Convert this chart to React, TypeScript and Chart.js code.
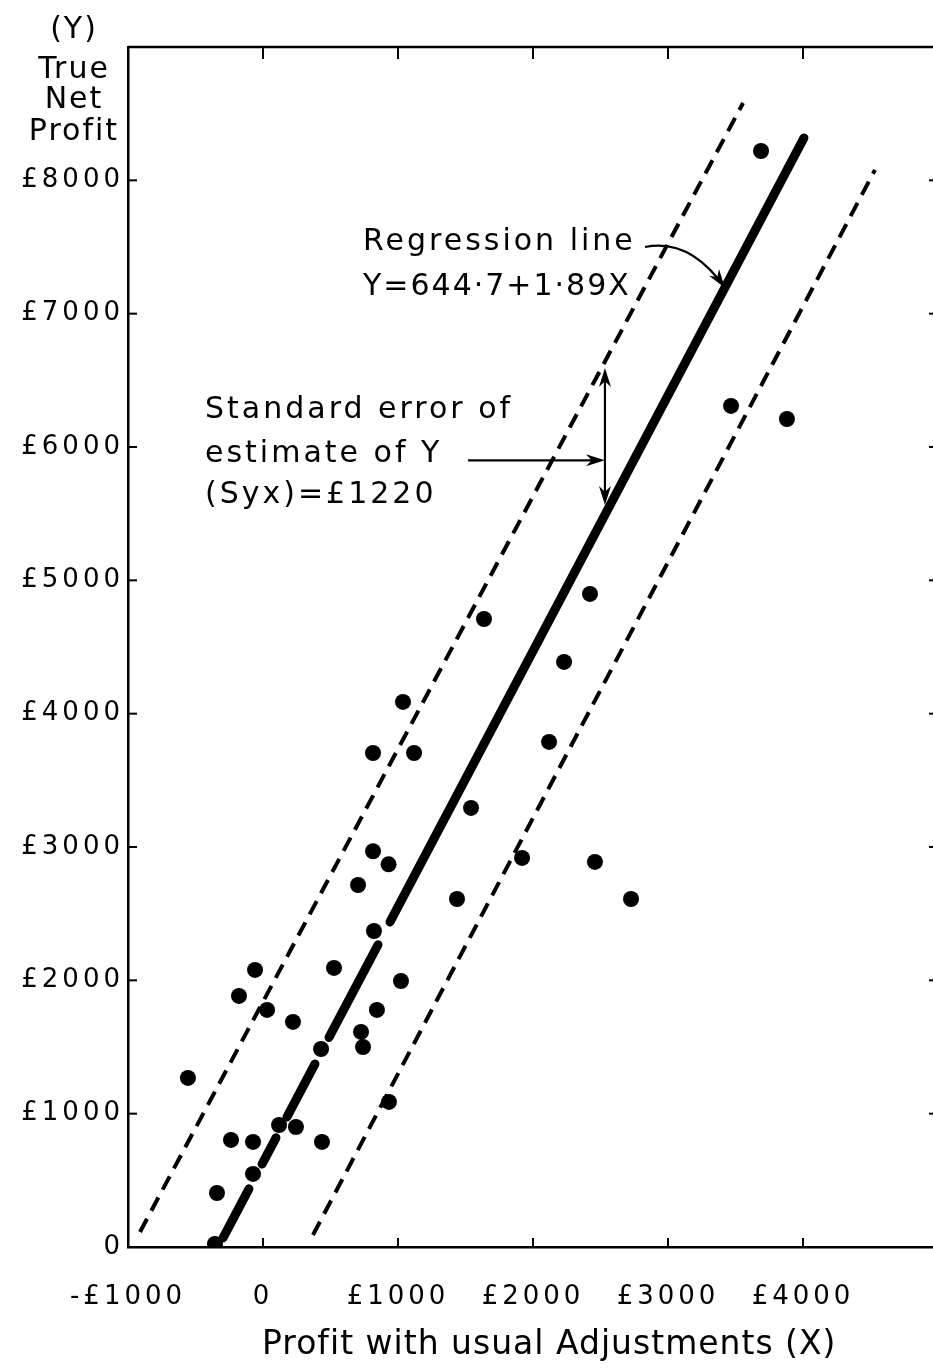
import React, { useEffect, useRef } from "react";
import { Chart, registerables } from "chart.js";

Chart.register(...registerables);

const FONT_FAMILY = '"DejaVu Sans", sans-serif';

// Scatter points: Profit with usual Adjustments (X), True Net Profit (Y), in £
const profitX = [
  -556, -356, -341, -237, -178, -74, -74, -59, 30, 119,
  222, 244, 430, 437, 526, 704, 726, 741, 815, 815,
  822, 844, 930, 933, 1022, 1037, 1119, 1437, 1541, 1637,
  1919, 2119, 2230, 2422, 2459, 2726, 3467, 3689, 3881,
];
const trueNetProfitY = [
  1268, 23, 405, 803, 1883, 788, 548, 2078, 1778, 915,
  1688, 900, 1485, 788, 2093, 2715, 1613, 1500, 3705, 2968,
  2370, 1778, 2870, 1088, 1995, 4088, 3705, 2610, 3293, 4710,
  2918, 3788, 4388, 4898, 2888, 2610, 6308, 8220, 6210,
];

// Regression line Y = 644.7 + 1.89X (drawn broken where it passes the dots)
const regressionX = [-296, -104, null, -7, 96, null, 178, 385, null, 489, 852, null, 941, 4007];
const regressionY = [68, 436, null, 622, 819, null, 976, 1373, null, 1572, 2267, null, 2438, 8318];

// Standard error band (± £1220)
const upperBandX = [-911, 3556];
const upperBandY = [113, 8580];
const lowerBandX = [370, 4533];
const lowerBandY = [90, 8078];

// Axis ticks
const xTickValues = [-1000, 0, 1000, 2000, 3000, 4000];
const xTickLabels = ["-£1000", "0", "£1000", "£2000", "£3000", "£4000"];
const yTickValues = [0, 1000, 2000, 3000, 4000, 5000, 6000, 7000, 8000];
const yTickLabels = ["0", "£1000", "£2000", "£3000", "£4000", "£5000", "£6000", "£7000", "£8000"];

// Texts
const yTitleLines = ["(Y)", "True", "Net", "Profit"];
const xTitle = "Profit with usual Adjustments (X)";
const regressionLabel = ["Regression line", "Y=644·7+1·89X"];
const stdErrorLabel = ["Standard error of", "estimate of Y", "(Syx)=£1220"];

// Annotation anchors (data units)
const sePointerFrom = { x: 1519, y: 5900 };
const sePointerTo = { x: 2533, y: 5900 };
const seSpanTop = { x: 2533, y: 6593 };
const seSpanBottom = { x: 2533, y: 5565 };
const regPointerFrom = { x: 2830, y: 7500 };
const regPointerCtrl = { x: 3163, y: 7568 };
const regPointerTo = { x: 3422, y: 7193 };

const toPoints = (xs: (number | null)[], ys: (number | null)[]) =>
  xs.map((x, i) => ({ x, y: ys[i] }));

function arrowHead(ctx: CanvasRenderingContext2D, fx: number, fy: number, tx: number, ty: number, len = 19, half = 6) {
  const ang = Math.atan2(ty - fy, tx - fx);
  const bx = tx - len * Math.cos(ang);
  const by = ty - len * Math.sin(ang);
  const nx = -Math.sin(ang) * half;
  const ny = Math.cos(ang) * half;
  ctx.beginPath();
  ctx.moveTo(tx, ty);
  ctx.lineTo(bx + nx, by + ny);
  ctx.lineTo(bx + (tx - bx) * 0.3, by + (ty - by) * 0.3);
  ctx.lineTo(bx - nx, by - ny);
  ctx.closePath();
  ctx.fill();
}

const decorPlugin = {
  id: "decor",
  beforeDraw(chart: any) {
    chart.ctx.letterSpacing = "4px";
  },
  afterDraw(chart: any) {
    const ctx: CanvasRenderingContext2D = chart.ctx;
    const a = chart.chartArea;
    const xs = chart.scales.x;
    const ys = chart.scales.y;
    const P = (p: { x: number; y: number }) => [xs.getPixelForValue(p.x), ys.getPixelForValue(p.y)];
    ctx.save();
    ctx.strokeStyle = "#000";
    ctx.fillStyle = "#000";
    const line = (x1: number, y1: number, x2: number, y2: number) => {
      ctx.beginPath();
      ctx.moveTo(x1, y1);
      ctx.lineTo(x2, y2);
      ctx.stroke();
    };
    // top frame line
    ctx.lineWidth = 2.5;
    line(a.left, a.top, a.right, a.top);
    // inward tick marks
    ctx.lineWidth = 2;
    xs.ticks.forEach((t: any) => {
      const px = xs.getPixelForValue(t.value);
      if (px <= a.left + 2 || px >= a.right - 2) return;
      line(px, a.bottom, px, a.bottom - 9);
      line(px, a.top, px, a.top + 12);
    });
    ys.ticks.forEach((t: any) => {
      const py = ys.getPixelForValue(t.value);
      if (py >= a.bottom - 2 || py <= a.top + 2) return;
      line(a.left, py, a.left + 9, py);
      line(a.right, py, a.right - 9, py);
    });

    // arrows
    ctx.lineWidth = 2.2;
    const [hx1, hy1] = P(sePointerFrom);
    const [hx2, hy2] = P(sePointerTo);
    line(hx1, hy1, hx2 - 6, hy2);
    arrowHead(ctx, hx1, hy1, hx2, hy2);
    const [vx1, vy1] = P(seSpanTop);
    const [vx2, vy2] = P(seSpanBottom);
    line(vx1, vy1 + 8, vx2, vy2 - 8);
    arrowHead(ctx, vx2, vy2, vx1, vy1);
    arrowHead(ctx, vx1, vy1, vx2, vy2);
    const [cx1, cy1] = P(regPointerFrom);
    const [ccx, ccy] = P(regPointerCtrl);
    const [cx2, cy2] = P(regPointerTo);
    ctx.beginPath();
    ctx.moveTo(cx1, cy1);
    ctx.quadraticCurveTo(ccx, ccy, cx2, cy2);
    ctx.stroke();
    arrowHead(ctx, ccx, ccy, cx2, cy2);

    // texts
    ctx.textBaseline = "alphabetic";
    ctx.textAlign = "left";
    ctx.font = `30px ${FONT_FAMILY}`;
    ctx.letterSpacing = "3px";
    ctx.fillText(regressionLabel[0], 363, 250);
    ctx.letterSpacing = "2px";
    ctx.fillText(regressionLabel[1], 363, 295);
    ctx.letterSpacing = "3px";
    ctx.fillText(stdErrorLabel[0], 205, 418);
    ctx.fillText(stdErrorLabel[1], 205, 462);
    ctx.fillText(stdErrorLabel[2], 205, 503);

    // y title
    ctx.font = `30px ${FONT_FAMILY}`;
    ctx.letterSpacing = "2px";
    ctx.textAlign = "center";
    const yBaselines = [38, 78, 108, 140];
    yTitleLines.forEach((s, i) => ctx.fillText(s, 74, yBaselines[i]));

    // x title
    ctx.font = `33px ${FONT_FAMILY}`;
    ctx.letterSpacing = "1px";
    ctx.textAlign = "left";
    ctx.fillText(xTitle, 262, 1354);

    ctx.restore();
    ctx.letterSpacing = "0px";
  },
};

export default function App() {
  const ref = useRef<HTMLCanvasElement>(null);
  useEffect(() => {
    const canvas = ref.current;
    if (!canvas) return;
    const chart = new Chart(canvas, {
      type: "scatter",
      data: {
        datasets: [
          {
            type: "line",
            data: toPoints(upperBandX, upperBandY),
            borderColor: "#000",
            borderWidth: 4,
            borderDash: [15, 9],
            pointRadius: 0,
            fill: false,
          },
          {
            type: "line",
            data: toPoints(lowerBandX, lowerBandY),
            borderColor: "#000",
            borderWidth: 4,
            borderDash: [15, 9],
            pointRadius: 0,
            fill: false,
          },
          {
            type: "line",
            data: toPoints(regressionX, regressionY),
            borderColor: "#000",
            borderWidth: 9,
            borderCapStyle: "round",
            pointRadius: 0,
            spanGaps: false,
            fill: false,
          },
          {
            type: "scatter",
            data: toPoints(profitX, trueNetProfitY),
            backgroundColor: "#000",
            borderWidth: 0,
            pointRadius: 8,
          },
        ] as any,
      },
      options: {
        animation: false,
        responsive: false,
        maintainAspectRatio: false,
        devicePixelRatio: 1,
        layout: { autoPadding: false, padding: { left: 0, top: 47, right: 2, bottom: 0 } },
        plugins: { legend: { display: false }, tooltip: { enabled: false } },
        scales: {
          x: {
            type: "linear",
            min: -1000,
            max: 5000,
            afterFit: (s: any) => {
              s.height = 123;
            },
            grid: { display: false, drawTicks: true, tickLength: 34 },
            border: { display: true, color: "#000", width: 2.5 },
            ticks: {
              stepSize: 1000,
              padding: 1,
              color: "#000",
              maxRotation: 0,
              autoSkip: false,
              font: { family: FONT_FAMILY, size: 26 },
              callback: (v: any) => {
                const i = xTickValues.indexOf(Number(v));
                return i >= 0 ? xTickLabels[i] : "";
              },
            },
          },
          y: {
            type: "linear",
            min: 0,
            max: 9000,
            afterFit: (s: any) => {
              s.width = 128;
            },
            grid: { display: false, drawTicks: false },
            border: { display: true, color: "#000", width: 2.5 },
            ticks: {
              stepSize: 1000,
              padding: 4,
              color: "#000",
              autoSkip: false,
              font: { family: FONT_FAMILY, size: 26 },
              callback: (v: any) => {
                const i = yTickValues.indexOf(Number(v));
                return i >= 0 ? yTickLabels[i] : "";
              },
            },
          },
        },
      } as any,
      plugins: [decorPlugin as any],
    });
    return () => chart.destroy();
  }, []);
  return (
    <div
      style={{
        position: "absolute",
        left: 0,
        top: 0,
        width: 933,
        height: 1370,
        overflow: "hidden",
        background: "#fff",
      }}
    >
      <canvas ref={ref} width={940} height={1370} style={{ display: "block", width: 940, height: 1370 }} />
    </div>
  );
}
